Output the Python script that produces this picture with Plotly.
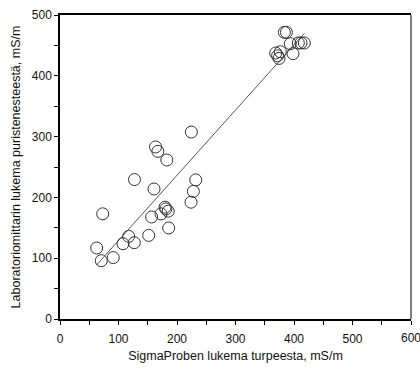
import numpy as np
import plotly.graph_objects as go

# SigmaProbe reading (x) vs laboratory meter reading (y), mS/m
sigma_x = [62.7, 73, 70.6, 91, 107.7, 117.4, 127, 151.6, 156.7, 160.7, 172.6,
           179.5, 181, 185, 185.8, 224, 228, 224.5, 163.3, 167.3, 182.6, 127.3, 232,
           383.5, 387, 393.7, 407.4, 412, 417.6, 368.7, 372, 376.6, 374.4, 398.3]
lab_y = [116.8, 173, 95.9, 101, 123.8, 135.9, 125.5, 137.5, 167.8, 213.8, 172.9,
         183.9, 181, 177.3, 149.7, 192.1, 209.9, 307.5, 283, 275.7, 261.5, 229.3, 228.8,
         471.5, 471.5, 452.8, 454, 454, 454, 437.5, 433, 439.6, 428.6, 436.4]

x_ticks = [0, 100, 200, 300, 400, 500, 600]
y_ticks = [0, 100, 200, 300, 400, 500]
x_title = "SigmaProben lukema turpeesta, mS/m"
y_title = "Laboratoriomittarin lukema puristenesteestä, mS/m"

slope, intercept = np.polyfit(sigma_x, lab_y, 1)
x_line = np.array([min(sigma_x), max(sigma_x)])
y_line = slope * x_line + intercept

fig = go.Figure()
fig.add_trace(go.Scatter(x=x_line, y=y_line, mode="lines",
                         line=dict(color="#555555", width=1), hoverinfo="skip"))
fig.add_trace(go.Scatter(x=sigma_x, y=lab_y, mode="markers",
                         marker=dict(symbol="circle-open", size=12,
                                     color="#333333", line=dict(width=1))))

fam = "Liberation Sans, Arial, sans-serif"
tick_font = dict(family=fam, size=12, color="#111111")
title_font = dict(family=fam, size=12.5, color="#111111")
fig.update_layout(
    width=420, height=370, margin=dict(l=60, r=9, t=15, b=51),
    paper_bgcolor="white", plot_bgcolor="white", showlegend=False, font=tick_font,
    xaxis=dict(range=[0, 600], tickvals=x_ticks[:-1], tickfont=tick_font,
               ticks="outside", ticklen=4, tickwidth=1, tickcolor="black",
               ticklabelstandoff=4,
               minor=dict(dtick=50, ticks="outside", ticklen=4, tickcolor="black"),
               showline=True, linecolor="black", linewidth=1.5, mirror=True,
               showgrid=False, zeroline=False,
               title=dict(text=x_title, font=title_font, standoff=6)),
    yaxis=dict(range=[0, 500], tickvals=y_ticks, tickfont=tick_font,
               ticks="outside", ticklen=4, tickwidth=1, tickcolor="black",
               minor=dict(dtick=50, ticks="outside", ticklen=4, tickcolor="black"),
               showline=True, linecolor="black", linewidth=1.5,
               showgrid=False, zeroline=False,
               title=dict(text=y_title, font=title_font, standoff=8)),
    shapes=[dict(type="line", xref="paper", yref="paper", x0=1, x1=1, y0=0, y1=1,
                 line=dict(color="#808080", width=2))],
    annotations=[dict(x=x_ticks[-1], y=0, xref="x", yref="paper", text=str(x_ticks[-1]),
                      showarrow=False, yanchor="top", xanchor="center", yshift=-10,
                      font=tick_font)],
)
fig.write_html("out.html")
